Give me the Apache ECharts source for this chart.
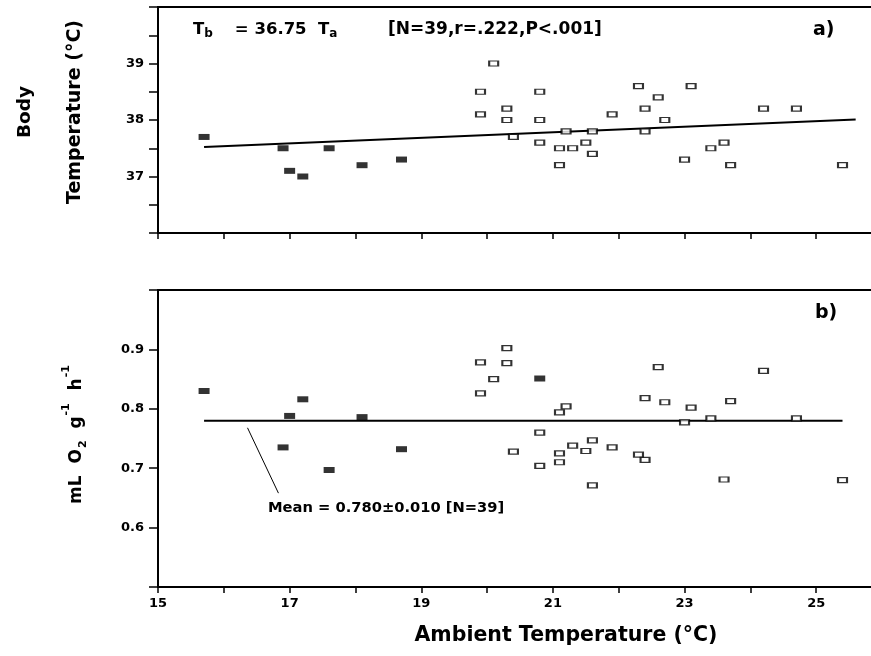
<!DOCTYPE html>
<html><head><meta charset="utf-8">
<script src="https://cdn.jsdelivr.net/npm/echarts@6/dist/echarts.min.js"></script>
<style>html,body{margin:0;padding:0;background:#fff}#c{width:871px;height:656px}</style>
</head><body><div id="c"></div>
<script>
// ---- data ----
const xTicks = [15, 17, 19, 21, 23, 25];
const topYTickLabels = [37, 38, 39];
const botYTickLabels = [0.6, 0.7, 0.8, 0.9];

const topFilledX = [15.7, 16.9, 17.0, 17.2, 17.6, 18.1, 18.7];
const topFilledY = [37.7, 37.5, 37.1, 37.0, 37.5, 37.2, 37.3];
const topOpenX = [19.9, 19.9, 20.1, 20.3, 20.3, 20.4, 20.8, 20.8, 20.8, 21.1, 21.1, 21.2, 21.3, 21.5, 21.6, 21.6, 21.9, 22.3, 22.4, 22.4, 22.6, 22.7, 23.0, 23.1, 23.4, 23.6, 23.7, 24.2, 24.7, 25.4];
const topOpenY = [38.5, 38.1, 39.0, 38.2, 38.0, 37.7, 38.5, 38.0, 37.6, 37.5, 37.2, 37.8, 37.5, 37.6, 37.8, 37.4, 38.1, 38.6, 38.2, 37.8, 38.4, 38.0, 37.3, 38.6, 37.5, 37.6, 37.2, 38.2, 38.2, 37.2];
const regX = [15.7, 25.6];
const regY = [37.52, 38.01];

const botFilledX = [15.7, 16.9, 17.0, 17.2, 17.6, 18.1, 18.7, 20.8];
const botFilledY = [0.830, 0.735, 0.788, 0.816, 0.697, 0.786, 0.732, 0.851];
const botOpenX = [19.9, 19.9, 20.1, 20.3, 20.3, 20.4, 20.8, 20.8, 21.1, 21.2, 21.1, 21.1, 21.3, 21.5, 21.6, 21.6, 21.9, 22.3, 22.4, 22.4, 22.6, 22.7, 23.0, 23.1, 23.4, 23.6, 23.7, 24.2, 24.7, 25.4];
const botOpenY = [0.878, 0.826, 0.850, 0.902, 0.877, 0.728, 0.760, 0.704, 0.794, 0.804, 0.725, 0.710, 0.738, 0.729, 0.747, 0.671, 0.735, 0.723, 0.714, 0.818, 0.870, 0.811, 0.777, 0.802, 0.784, 0.681, 0.813, 0.864, 0.784, 0.680];
const meanX = [15.7, 25.4];
const meanY = [0.780, 0.780];
const leaderX = [16.36, 16.83];
const leaderY = [0.768, 0.658];

const zip = (a, b) => a.map((v, i) => [v, b[i]]);
const FONT = '"DejaVu Sans", "Liberation Sans", Arial, sans-serif';
const near = (v, arr) => arr.some(t => Math.abs(v - t) < 1e-6);

const axisLine = { show: true, lineStyle: { color: '#000', width: 2 } };
const axisTick = { show: true, length: 7, lineStyle: { color: '#000', width: 1.5 } };

function xAxis(gi, showLabels) {
  return {
    type: 'value', gridIndex: gi, min: 15, max: 26, interval: 1,
    axisLine, axisTick: Object.assign({}, axisTick, { length: 6 }),
    splitLine: { show: false },
    axisLabel: {
      show: showLabels, margin: 10, color: '#000', fontFamily: FONT, fontWeight: 'bold', fontSize: 13,
      formatter: v => near(v, xTicks) ? String(v) : ''
    }
  };
}

const chart = echarts.init(document.getElementById('c'));
chart.setOption({
  animation: false,
  backgroundColor: '#fff',
  grid: [
    { left: 158, top: 7, width: 724, height: 226, outerBoundsMode: 'none', containLabel: false,
      show: true, borderColor: '#000', borderWidth: 2, backgroundColor: 'transparent' },
    { left: 158, top: 290, width: 724, height: 297, outerBoundsMode: 'none', containLabel: false,
      show: true, borderColor: '#000', borderWidth: 2, backgroundColor: 'transparent' }
  ],
  xAxis: [xAxis(0, false), xAxis(1, true)],
  yAxis: [
    {
      type: 'value', gridIndex: 0, min: 36, max: 40, interval: 0.5,
      axisLine, axisTick: Object.assign({}, axisTick, { length: 9 }), splitLine: { show: false },
      axisLabel: { margin: 14, color: '#000', fontFamily: FONT, fontWeight: 'bold', fontSize: 13,
        formatter: v => near(v, topYTickLabels) ? String(v) : '' }
    },
    {
      type: 'value', gridIndex: 1, min: 0.5, max: 1.0, interval: 0.1,
      axisLine, axisTick: Object.assign({}, axisTick, { length: 9 }), splitLine: { show: false },
      axisLabel: { margin: 14, color: '#000', fontFamily: FONT, fontWeight: 'bold', fontSize: 13,
        formatter: v => near(v, botYTickLabels) ? v.toFixed(1) : '' }
    }
  ],
  series: [
    { type: 'line', xAxisIndex: 0, yAxisIndex: 0, data: zip(regX, regY), symbol: 'none',
      lineStyle: { color: '#000', width: 2 }, z: 3 },
    { type: 'scatter', xAxisIndex: 0, yAxisIndex: 0, data: zip(topFilledX, topFilledY), symbol: 'rect', symbolSize: [11, 6],
      itemStyle: { color: '#000' }, z: 5 },
    { type: 'scatter', xAxisIndex: 0, yAxisIndex: 0, data: zip(topOpenX, topOpenY), symbol: 'rect', symbolSize: [9, 5],
      itemStyle: { color: '#fff', borderColor: '#000', borderWidth: 1.6 }, z: 5 },
    { type: 'line', xAxisIndex: 1, yAxisIndex: 1, data: zip(meanX, meanY), symbol: 'none',
      lineStyle: { color: '#000', width: 2 }, z: 3 },
    { type: 'line', xAxisIndex: 1, yAxisIndex: 1, data: zip(leaderX, leaderY), symbol: 'none',
      lineStyle: { color: '#000', width: 1 }, z: 3 },
    { type: 'scatter', xAxisIndex: 1, yAxisIndex: 1, data: zip(botFilledX, botFilledY), symbol: 'rect', symbolSize: [11, 6],
      itemStyle: { color: '#000' }, z: 5 },
    { type: 'scatter', xAxisIndex: 1, yAxisIndex: 1, data: zip(botOpenX, botOpenY), symbol: 'rect', symbolSize: [9, 5],
      itemStyle: { color: '#fff', borderColor: '#000', borderWidth: 1.6 }, z: 5 }
  ],
  graphic: [
    { type: 'text', left: 193, top: 21, style: {
        text: '{m|T}{s|b}{e|= 36.75  T}{s|a}',
        rich: {
          m: { font: 'bold 16.5px ' + FONT, fill: '#000', verticalAlign: 'top' },
          e: { font: 'bold 16.5px ' + FONT, fill: '#000', verticalAlign: 'top', padding: [0, 0, 0, 22] },
          s: { font: 'bold 12px ' + FONT, fill: '#000', verticalAlign: 'top', padding: [7, 0, 0, 0] }
        } } },
    { type: 'text', left: 388, top: 21, style: { text: '[N=39,r=.222,P<.001]', font: 'bold 17px ' + FONT, fill: '#000' } },
    { type: 'text', left: 813, top: 21, style: { text: 'a)', font: 'bold 19px ' + FONT, fill: '#000' } },
    { type: 'text', left: 815, top: 304, style: { text: 'b)', font: 'bold 19px ' + FONT, fill: '#000' } },
    { type: 'text', left: 268, top: 501, style: { text: 'Mean = 0.780\u00b10.010 [N=39]', font: 'bold 14.7px ' + FONT, fill: '#000' } },
    { type: 'text', x: 25, y: 112, rotation: Math.PI / 2, style: { text: 'Body', font: 'bold 18.5px ' + FONT, fill: '#000', align: 'center', verticalAlign: 'middle' } },
    { type: 'text', x: 75, y: 112, rotation: Math.PI / 2, style: { text: 'Temperature (\u00b0C)', font: 'bold 19px ' + FONT, fill: '#000', align: 'center', verticalAlign: 'middle' } },
    { type: 'text', x: 73, y: 434, rotation: Math.PI / 2, style: {
        text: '{m|mL  O}{s|2}{m|  g}{p|-1}{m|  h}{p|-1}',
        align: 'center', verticalAlign: 'middle',
        rich: {
          m: { font: 'bold 17px ' + FONT, fill: '#000', verticalAlign: 'bottom', lineHeight: 24 },
          s: { font: 'bold 11px ' + FONT, fill: '#000', verticalAlign: 'bottom', lineHeight: 16, padding: [0, 0, -4, 1] },
          p: { font: 'bold 11px ' + FONT, fill: '#000', verticalAlign: 'top', lineHeight: 14, padding: [0, 1, 0, 1] }
        } } },
    { type: 'text', x: 566, y: 636, style: { text: 'Ambient Temperature (\u00b0C)', font: 'bold 20.5px ' + FONT, fill: '#000', align: 'center', verticalAlign: 'middle' } }
  ]
});
</script>
</body></html>
